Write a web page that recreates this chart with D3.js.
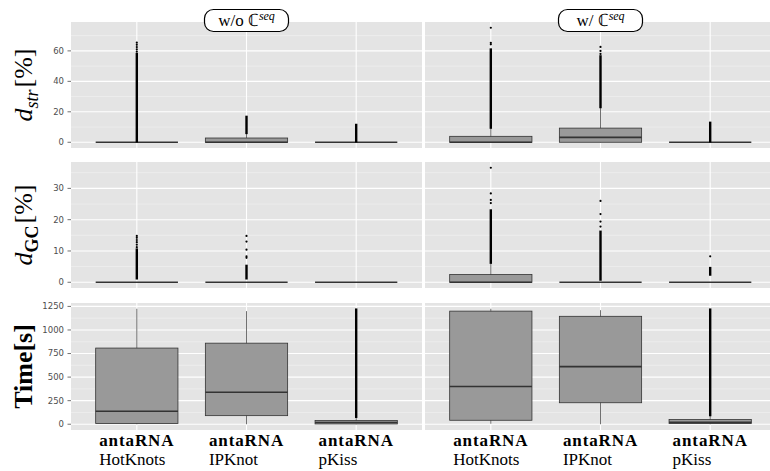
<!DOCTYPE html>
<html>
<head>
<meta charset="utf-8">
<script src="https://cdn.jsdelivr.net/npm/d3@7/dist/d3.min.js"></script>
<style>
  body { margin: 0; background: #fff; }
  .tick-label { font-family: "DejaVu Sans", sans-serif; font-size: 8.5px; fill: #4d4d4d; }
</style>
</head>
<body>
<svg id="chart" width="770" height="471"></svg>
<script>
// ---- data ----
const PANELS = ["w/o", "w/"];
const TOOLS = ["HotKnots", "IPKnot", "pKiss"];

const STR_TICKS = [0, 20, 40, 60];
const GC_TICKS = [0, 10, 20, 30];
const TIME_TICKS = [0, 250, 500, 750, 1000, 1250];

// [lower whisker, q1, median, q3, upper whisker] per panel, per tool
const STR_BOXES = [
  [[0, 0, 0, 0, 0], [0, 0, 0, 2.8, 6], [0, 0, 0, 0, 0]],
  [[0, 0, 0, 3.9, 9.3], [0, 0, 3.2, 9.3, 22.5], [0, 0, 0, 0, 0]]
];
// outliers: dense runs [from, to] and single sparse points
const STR_RUNS = [
  [[[0.5, 58]], [[6, 16.8]], [[0.5, 11.5]]],
  [[[9.5, 61]], [[23, 56.5]], [[0.5, 12.9]]]
];
const STR_POINTS = [
  [[59.5, 61, 62.5, 64, 65.4], [], []],
  [[64.3, 65.3, 75.2], [58, 60, 62.6], []]
];

const GC_BOXES = [
  [[0, 0, 0, 0, 0], [0, 0, 0, 0, 0], [0, 0, 0, 0, 0]],
  [[0, 0, 0, 2.5, 6], [0, 0, 0, 0, 0], [0, 0, 0, 0, 0]]
];
const GC_RUNS = [
  [[[1.2, 10.5]], [[1.2, 5.3]], []],
  [[[6.2, 23]], [[0.8, 16.2]], [[2.4, 4.6]]]
];
const GC_POINTS = [
  [[11.2, 12, 12.8, 13.5, 14.2, 14.8], [7.8, 8.3, 10.4, 13, 14.8], []],
  [[25.3, 26.3, 28.4, 36.6], [17.8, 19.4, 21.8, 26], [8.3]]
];

const TIME_BOXES = [
  [[0, 7, 137, 808, 1225], [0, 91, 340, 860, 1200], [0, 3, 18, 40, 77]],
  [[5, 42, 400, 1200, 1225], [0, 228, 611, 1145, 1210], [0, 7, 20, 50, 95]]
];
const TIME_RUNS = [
  [[], [], [[77, 1218]]],
  [[], [], [[95, 1218]]]
];
const TIME_POINTS = [[[], [], []], [[], [], []]];

const SERIF = "'Liberation Serif', 'Times New Roman', serif";

// ---- layout ----
const svg = d3.select("#chart");
const panelX = [[71, 422], [425, 776]];
const rowY = [[22, 148], [162, 288], [303, 430]];

const rows = [
  {title: "str", ticks: STR_TICKS, boxes: STR_BOXES, runs: STR_RUNS, points: STR_POINTS},
  {title: "GC", ticks: GC_TICKS, boxes: GC_BOXES, runs: GC_RUNS, points: GC_POINTS},
  {title: "time", ticks: TIME_TICKS, boxes: TIME_BOXES, runs: TIME_RUNS, points: TIME_POINTS}
];

function serifText(parent) {
  return parent.append("text")
    .attr("font-family", SERIF)
    .attr("fill", "#000");
}

rows.forEach((row, r) => {
  const values = [row.boxes.flat(2), row.runs.flat(3), row.points.flat(2)].flat();
  const lo = d3.min(values);
  const hi = d3.max(values);
  const pad = (hi - lo) * 0.05;
  const y = d3.scaleLinear()
    .domain([lo - pad, hi + pad])
    .range([rowY[r][1], rowY[r][0]]);

  const step = row.ticks[1] - row.ticks[0];
  const minor = row.ticks.map((t) => t + step / 2)
    .concat([row.ticks[0] - step / 2])
    .filter((t) => t > y.domain()[0] && t < y.domain()[1]);

  PANELS.forEach((p, c) => {
    const x = d3.scalePoint()
      .domain(TOOLS)
      .range(panelX[c])
      .padding(0.6);
    const boxW = x.step() * 0.75;

    const g = svg.append("g");

    g.append("rect")
      .attr("x", panelX[c][0])
      .attr("y", rowY[r][0])
      .attr("width", panelX[c][1] - panelX[c][0])
      .attr("height", rowY[r][1] - rowY[r][0])
      .attr("fill", "#e4e4e4");

    g.selectAll(".minor").data(minor).enter().append("line")
      .attr("x1", panelX[c][0]).attr("x2", panelX[c][1])
      .attr("y1", (d) => y(d)).attr("y2", (d) => y(d))
      .attr("stroke", "#f4f4f4").attr("stroke-width", 0.6);

    g.selectAll(".major").data(row.ticks).enter().append("line")
      .attr("x1", panelX[c][0]).attr("x2", panelX[c][1])
      .attr("y1", (d) => y(d)).attr("y2", (d) => y(d))
      .attr("stroke", "#fff").attr("stroke-width", 1.1);

    g.selectAll(".vgrid").data(TOOLS).enter().append("line")
      .attr("x1", (d) => x(d)).attr("x2", (d) => x(d))
      .attr("y1", rowY[r][0]).attr("y2", rowY[r][1])
      .attr("stroke", "#fff").attr("stroke-width", 1.1);

    const boxes = TOOLS.map((t, i) => ({
      tool: t,
      stats: row.boxes[c][i],
      runs: row.runs[c][i],
      points: row.points[c][i]
    }));

    const bg = g.selectAll(".box").data(boxes).enter().append("g");

    // whiskers
    bg.append("line")
      .attr("x1", (d) => x(d.tool)).attr("x2", (d) => x(d.tool))
      .attr("y1", (d) => y(d.stats[0])).attr("y2", (d) => y(d.stats[4]))
      .attr("stroke", "#333").attr("stroke-width", 0.7);

    bg.append("rect")
      .attr("x", (d) => x(d.tool) - boxW / 2)
      .attr("width", boxW)
      .attr("y", (d) => y(d.stats[3]))
      .attr("height", (d) => y(d.stats[1]) - y(d.stats[3]))
      .attr("fill", "#999")
      .attr("stroke", "#333")
      .attr("stroke-width", 0.8);

    bg.append("line")
      .attr("x1", (d) => x(d.tool) - boxW / 2).attr("x2", (d) => x(d.tool) + boxW / 2)
      .attr("y1", (d) => y(d.stats[2])).attr("y2", (d) => y(d.stats[2]))
      .attr("stroke", "#333").attr("stroke-width", 1.6);

    // outliers
    bg.each(function (d) {
      const sel = d3.select(this);
      sel.selectAll(".run").data(d.runs).enter().append("rect")
        .attr("x", x(d.tool) - 1.2)
        .attr("width", 2.4)
        .attr("y", (v) => y(v[1]) - 1)
        .attr("height", (v) => y(v[0]) - y(v[1]) + 2)
        .attr("fill", "#000");
      sel.selectAll(".pt").data(d.points).enter().append("circle")
        .attr("cx", x(d.tool))
        .attr("cy", (v) => y(v))
        .attr("r", 1.1)
        .attr("fill", "#000");
    });

    // x labels under the bottom row
    if (r === rows.length - 1) {
      TOOLS.forEach((t) => {
        const top = serifText(svg)
          .attr("y", 446)
          .attr("font-size", 17)
          .attr("font-weight", "bold")
          .attr("letter-spacing", 0.9)
          .text("antaRNA");
        const w = top.node().getComputedTextLength();
        const x0 = x(t) - w / 2;
        top.attr("x", x0);
        serifText(svg)
          .attr("x", x0)
          .attr("y", 465)
          .attr("font-size", 17)
          .text(t);
      });
    }
  });

  // y axis ticks (left side only)
  const axis = svg.append("g");
  axis.selectAll("line").data(row.ticks).enter().append("line")
    .attr("x1", 67.5).attr("x2", 71)
    .attr("y1", (d) => y(d)).attr("y2", (d) => y(d))
    .attr("stroke", "#4d4d4d").attr("stroke-width", 0.8);
  axis.selectAll("text").data(row.ticks).enter().append("text")
    .classed("tick-label", true)
    .attr("x", 64)
    .attr("y", (d) => y(d))
    .attr("dy", "0.34em")
    .attr("text-anchor", "end")
    .text((d) => d);

  // y axis title
  const cy = (rowY[r][0] + rowY[r][1]) / 2;
  const title = serifText(svg)
    .attr("transform", "translate(32," + cy + ") rotate(-90)")
    .attr("text-anchor", "middle")
    .attr("font-size", 26);
  if (row.title === "time") {
    title.attr("font-weight", "bold").text("Time[s]");
  } else {
    title.append("tspan").attr("font-style", "italic").text("d");
    const sub = title.append("tspan")
      .attr("dy", 6)
      .attr("font-size", 18);
    if (row.title === "str") {
      sub.attr("font-style", "italic").text("str");
    } else {
      sub.attr("font-weight", "bold").text("GC");
    }
    title.append("tspan").attr("dy", -6).attr("dx", 2).text("[%]");
  }
});

// strip labels on top of the panels
PANELS.forEach((p, c) => {
  const cx = (panelX[c][0] + panelX[c][1]) / 2;
  const g = svg.append("g");
  const rect = g.append("rect");
  const label = serifText(g)
    .attr("y", 26)
    .attr("font-size", 17);
  label.append("tspan").text(p + " \u2102");
  label.append("tspan")
    .attr("dy", -6)
    .attr("font-size", 12)
    .attr("font-style", "italic")
    .text("seq");
  const w = label.node().getComputedTextLength();
  label.attr("x", cx - w / 2);
  const bw = Math.max(w + 16, 84);
  rect.attr("x", cx - bw / 2)
    .attr("y", 9.5)
    .attr("width", bw)
    .attr("height", 22)
    .attr("rx", 9)
    .attr("fill", "#fff")
    .attr("stroke", "#000")
    .attr("stroke-width", 1.2);
});
</script>
</body>
</html>
